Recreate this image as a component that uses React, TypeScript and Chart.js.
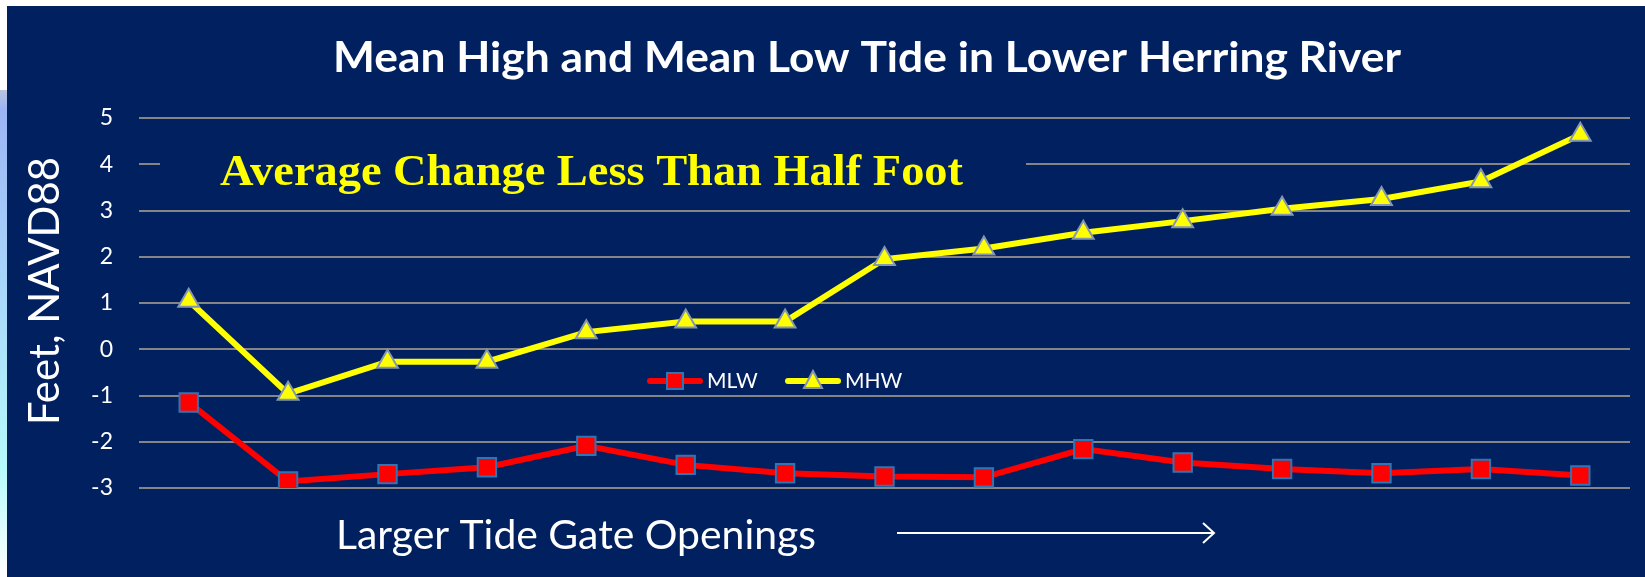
import React, { useEffect, useRef } from "react";
import { Chart, registerables } from "chart.js";

Chart.register(...registerables);

const categories = ["1", "2", "3", "4", "5", "6", "7", "8", "9", "10", "11", "12", "13", "14", "15"];
const mlwValues = [-1.15, -2.86, -2.7, -2.55, -2.09, -2.5, -2.68, -2.75, -2.77, -2.16, -2.45, -2.59, -2.68, -2.59, -2.73];
const mhwValues = [1.05, -0.96, -0.27, -0.27, 0.37, 0.6, 0.6, 1.95, 2.18, 2.52, 2.77, 3.04, 3.25, 3.63, 4.64];
const yMin = -3;
const yMax = 5;
const seriesNames = ["MLW", "MHW"];
const titleText = "Mean High and Mean Low Tide in Lower Herring River";
const yAxisTitle = "Feet, NAVD88";
const annotationText = "Average Change Less Than Half Foot";
const bottomText = "Larger Tide Gate Openings";

const NAVY = "#002060";
const W = 1645;
const H = 577;

function fitText(ctx: CanvasRenderingContext2D, text: string, x: number, y: number, width: number, align: "left" | "center") {
  const m = ctx.measureText(text).width;
  const s = width / m;
  ctx.save();
  ctx.translate(x, y);
  ctx.scale(s, 1);
  ctx.textAlign = align;
  ctx.textBaseline = "alphabetic";
  ctx.fillText(text, 0, 0);
  ctx.restore();
}

const overlayPlugin = {
  id: "overlay",
  afterDraw(chart: any) {
    const ctx: CanvasRenderingContext2D = chart.ctx;
    ctx.save();
    // title
    ctx.fillStyle = "#FFFFFF";
    ctx.font = "bold 42px Lato";
    fitText(ctx, titleText, 867, 72, 1068, "center");

    // y axis title
    ctx.font = "42px Lato";
    ctx.save();
    ctx.translate(59, 291);
    ctx.rotate(-Math.PI / 2);
    fitText(ctx, yAxisTitle, 0, 0, 268, "center");
    ctx.restore();

    // annotation box + text
    ctx.fillStyle = NAVY;
    ctx.fillRect(160, 138, 866, 56);
    ctx.fillStyle = "#FFFF00";
    ctx.font = "bold 45px 'Liberation Serif'";
    fitText(ctx, annotationText, 220, 185, 743, "left");

    // legend
    const ly = 381;
    ctx.lineCap = "round";
    ctx.strokeStyle = "#FF0000";
    ctx.lineWidth = 6;
    ctx.beginPath();
    ctx.moveTo(650, ly);
    ctx.lineTo(700, ly);
    ctx.stroke();
    ctx.fillStyle = "#FF0000";
    ctx.fillRect(667, ly - 8, 16, 16);
    ctx.strokeStyle = "#2E75B6";
    ctx.lineWidth = 2;
    ctx.strokeRect(667, ly - 8, 16, 16);

    ctx.strokeStyle = "#FFFF00";
    ctx.lineWidth = 6;
    ctx.beginPath();
    ctx.moveTo(788, ly);
    ctx.lineTo(838, ly);
    ctx.stroke();
    ctx.fillStyle = "#FFFF00";
    ctx.beginPath();
    ctx.moveTo(813, ly - 10);
    ctx.lineTo(822, ly + 7);
    ctx.lineTo(804, ly + 7);
    ctx.closePath();
    ctx.fill();
    ctx.strokeStyle = "#8497B0";
    ctx.lineWidth = 2;
    ctx.stroke();

    ctx.fillStyle = "#FFFFFF";
    ctx.font = "21px Lato";
    ctx.textAlign = "left";
    ctx.textBaseline = "alphabetic";
    ctx.fillText(seriesNames[0], 707, 388);
    ctx.fillText(seriesNames[1], 845, 388);

    // bottom text and arrow
    ctx.font = "40px Lato";
    fitText(ctx, bottomText, 336, 549, 480, "left");
    ctx.strokeStyle = "#FFFFFF";
    ctx.lineWidth = 2;
    ctx.lineCap = "butt";
    ctx.beginPath();
    ctx.moveTo(897, 533);
    ctx.lineTo(1213, 533);
    ctx.stroke();
    ctx.beginPath();
    ctx.moveTo(1203, 523);
    ctx.lineTo(1214, 533);
    ctx.lineTo(1203, 543);
    ctx.stroke();
    ctx.restore();
  },
};

export default function App() {
  const canvasRef = useRef<HTMLCanvasElement | null>(null);

  useEffect(() => {
    document.body.style.margin = "0";
    const canvas = canvasRef.current;
    if (!canvas) return;
    const chart = new Chart(canvas, {
      type: "line",
      data: {
        labels: categories,
        datasets: [
          {
            label: seriesNames[0],
            data: mlwValues,
            borderColor: "#FF0000",
            borderWidth: 6,
            pointStyle: "rect",
            pointRadius: 13,
            pointBackgroundColor: "#FF0000",
            pointBorderColor: "#2E75B6",
            pointBorderWidth: 2,
            tension: 0,
          },
          {
            label: seriesNames[1],
            data: mhwValues,
            borderColor: "#FFFF00",
            borderWidth: 6,
            pointStyle: "triangle",
            pointRadius: 12,
            pointBackgroundColor: "#FFFF00",
            pointBorderColor: "#8497B0",
            pointBorderWidth: 2,
            tension: 0,
          },
        ],
      },
      options: {
        responsive: false,
        animation: false,
        devicePixelRatio: 1,
        layout: { padding: { left: 0, top: 118, right: 15, bottom: 89 } },
        plugins: {
          legend: { display: false },
          title: { display: false },
          tooltip: { enabled: false },
        },
        scales: {
          x: {
            type: "category",
            display: false,
            offset: true,
          },
          y: {
            min: yMin,
            max: yMax,
            afterFit(scale: any) {
              scale.width = 139;
            },
            border: { display: false },
            grid: { color: "#858585", lineWidth: 2, drawTicks: false },
            ticks: {
              stepSize: 1,
              padding: 26,
              color: "#FFFFFF",
              font: { family: "Lato", size: 23 },
              callback: (v: any) => String(v),
            },
          },
        },
      },
      plugins: [overlayPlugin],
    });
    return () => chart.destroy();
  }, []);

  return (
    <div style={{ position: "relative", width: W, height: H, background: "#FFFFFF", overflow: "hidden" }}>
      <div
        style={{
          position: "absolute",
          left: 0,
          top: 90,
          width: 7,
          height: H - 90,
          background: "linear-gradient(to bottom, #B9C4E0 0px, #9DB4F5 20px, #A8D8FA 200px, #B6FBFB 380px, #FFFFFF 487px)",
        }}
      />
      <div style={{ position: "absolute", left: 7, top: 6, width: W - 7, height: H - 6, background: NAVY }} />
      <canvas ref={canvasRef} width={W} height={H} style={{ position: "absolute", left: 0, top: 0 }} />
    </div>
  );
}
